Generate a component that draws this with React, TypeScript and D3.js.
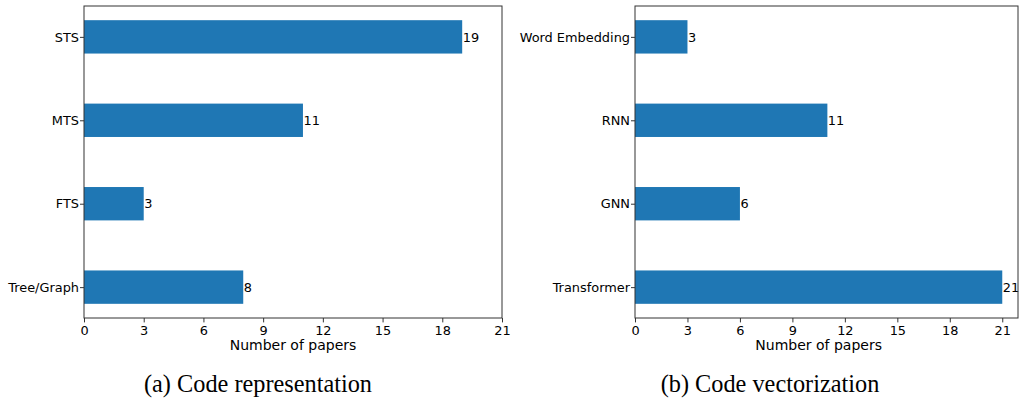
import React, { useEffect, useRef } from 'react'
import * as d3 from 'd3'

// panel (a): code representation
const repCategories = ['STS', 'MTS', 'FTS', 'Tree/Graph']
const repCounts = [19, 11, 3, 8]

// panel (b): code vectorization
const vecCategories = ['Word Embedding', 'RNN', 'GNN', 'Transformer']
const vecCounts = [3, 11, 6, 21]

const xTicks = [0, 3, 6, 9, 12, 15, 18, 21]
const xLabel = 'Number of papers'
const captions = ['(a) Code representation', '(b) Code vectorization']

export default function App() {
  const svgRef = useRef<SVGSVGElement | null>(null)

  useEffect(() => {
    if (!svgRef.current) return
    const svg = d3.select(svgRef.current)
    svg.selectAll('*').remove()

    const width = 1021
    const height = 400
    const top = 6
    const bottom = 318
    const sans = 'DejaVu Sans, sans-serif'

    svg.attr('width', width).attr('height', height).style('background', '#fff')

    const panels = [
      { cats: repCategories, vals: repCounts, left: 84, right: 502, xMax: 21, caption: captions[0], capX: 258 },
      { cats: vecCategories, vals: vecCounts, left: 635, right: 1018, xMax: 21.9, caption: captions[1], capX: 770 }
    ]

    panels.forEach(p => {
      const x = d3.scaleLinear().domain([0, p.xMax]).range([p.left, p.right])
      const y = d3.scaleLinear().domain([-0.37, p.cats.length - 1 + 0.37]).range([top, bottom])
      const barH = y(0.4) - y(0)

      const g = svg.append('g')

      // bars
      g.selectAll('rect')
        .data(p.vals)
        .enter()
        .append('rect')
        .attr('x', x(0))
        .attr('y', (d, i) => y(i) - barH / 2)
        .attr('width', d => x(d) - x(0))
        .attr('height', barH)
        .attr('fill', '#1f77b4')

      // value labels at bar ends
      g.selectAll('text.val')
        .data(p.vals)
        .enter()
        .append('text')
        .attr('class', 'val')
        .attr('x', d => x(d) + 0.5)
        .attr('y', (d, i) => y(i))
        .attr('dy', '0.36em')
        .style('font-family', sans)
        .style('font-size', '12.9px')
        .text(d => d)

      // frame
      g.append('rect')
        .attr('x', p.left)
        .attr('y', top)
        .attr('width', p.right - p.left)
        .attr('height', bottom - top)
        .attr('fill', 'none')
        .attr('stroke', '#333')
        .attr('stroke-width', 1)

      // y axis
      const yAxis = d3.axisLeft(y)
        .tickValues(d3.range(p.cats.length))
        .tickFormat(i => p.cats[i as number])
        .tickSize(4)
        .tickPadding(1)
      const ya = g.append('g').attr('transform', `translate(${p.left}, 0)`).call(yAxis)
      ya.select('.domain').remove()
      ya.selectAll('line').attr('stroke', '#333')
      ya.selectAll('text').style('font-family', sans).style('font-size', '12.9px').attr('fill', '#000')

      // x axis
      const xAxis = d3.axisBottom(x).tickValues(xTicks).tickSize(4.4).tickPadding(3)
      const xa = g.append('g').attr('transform', `translate(0, ${bottom})`).call(xAxis)
      xa.select('.domain').remove()
      xa.selectAll('line').attr('stroke', '#333')
      xa.selectAll('text').style('font-family', sans).style('font-size', '12.9px').attr('fill', '#000')

      g.append('text')
        .attr('x', (p.left + x(21)) / 2)
        .attr('y', 350)
        .style('text-anchor', 'middle')
        .style('font-family', sans)
        .style('font-size', '14px')
        .text(xLabel)

      g.append('text')
        .attr('x', p.capX)
        .attr('y', 392)
        .style('text-anchor', 'middle')
        .style('font-family', 'Liberation Serif, serif')
        .style('font-size', '24.3px')
        .text(p.caption)
    })
  }, [])

  return (
    <svg ref={svgRef} style={{ position: 'absolute', left: 0, top: 0, display: 'block' }}></svg>
  )
}
